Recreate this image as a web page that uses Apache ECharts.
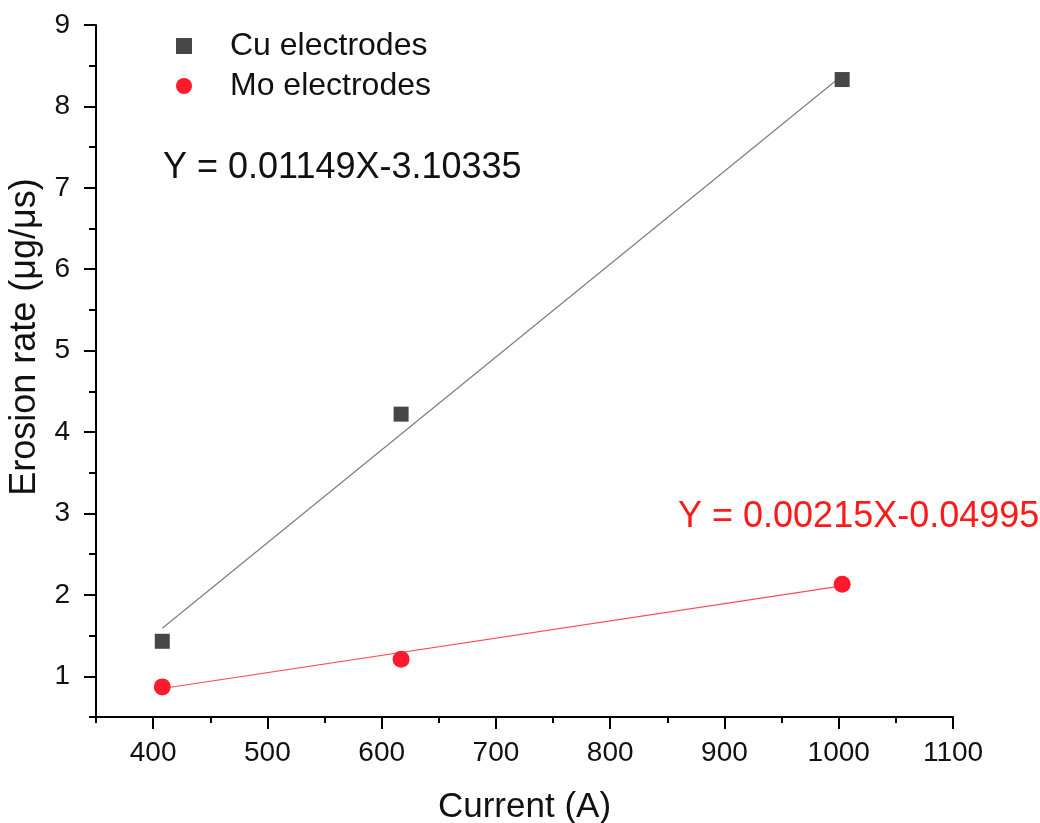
<!DOCTYPE html>
<html>
<head>
<meta charset="utf-8">
<script src="https://cdn.jsdelivr.net/npm/echarts@6/dist/echarts.min.js"></script>
<style>
html,body{margin:0;padding:0;background:#fff;}
#chart{width:1040px;height:823px;}
</style>
</head>
<body>
<div id="chart"></div>
<script>
// ---- data ----
const current = [408, 617, 1003];
const cuRate = [1.43, 4.22, 8.33];
const moRate = [0.87, 1.21, 2.13];
const cuFitX = [408, 1003];
const cuFitY = [1.59, 8.38];
const moFitX = [408, 1003];
const moFitY = [0.85, 2.11];
const xMajorTicks = [400, 500, 600, 700, 800, 900, 1000, 1100];
const xMinorTicks = [350, 450, 550, 650, 750, 850, 950, 1050];
const yMajorTicks = [1, 2, 3, 4, 5, 6, 7, 8, 9];
const yMinorTicks = [0.5, 1.5, 2.5, 3.5, 4.5, 5.5, 6.5, 7.5, 8.5];
const cuLabel = 'Cu electrodes';
const moLabel = 'Mo electrodes';
const cuEquation = 'Y = 0.01149X-3.10335';
const moEquation = 'Y = 0.00215X-0.04995';

const FONT = '"Liberation Sans", Arial, sans-serif';
const pairs = (xs, ys) => xs.map((x, i) => [x, ys[i]]);

const chart = echarts.init(document.getElementById('chart'), null, {renderer: 'canvas'});
const axisLineStyle = {color: '#000', width: 2};
const plain = v => String(v);
const option = {
  backgroundColor: '#fff',
  animation: false,
  textStyle: {fontFamily: FONT},
  grid: {left: 96, right: 87, top: 25, bottom: 106, containLabel: false, outerBoundsMode: 'none'},
  xAxis: [{
    type: 'value', min: 350, max: 1100,
    name: 'Current (A)', nameLocation: 'middle', nameGap: 73,
    nameTextStyle: {fontSize: 35, color: '#111', fontFamily: FONT},
    axisLine: {show: true, lineStyle: axisLineStyle},
    axisTick: {show: true, inside: false, length: 12, lineStyle: {color: '#000', width: 2}, customValues: xMajorTicks},
    axisLabel: {fontSize: 28, color: '#111', margin: 22, fontFamily: FONT, customValues: xMajorTicks, formatter: plain},
    splitLine: {show: false}
  }, {
    type: 'value', min: 350, max: 1100, position: 'bottom', gridIndex: 0,
    axisLine: {show: false},
    axisTick: {show: true, length: 6, lineStyle: {color: '#000', width: 2}, customValues: xMinorTicks},
    axisLabel: {show: false},
    splitLine: {show: false}
  }],
  yAxis: [{
    type: 'value', min: 0.5, max: 9,
    name: 'Erosion rate (μg/μs)', nameLocation: 'middle', nameGap: 51, nameRotate: 90,
    nameTextStyle: {fontSize: 36, color: '#111', fontFamily: FONT, padding: [0, 0, 0, 68]},
    axisLine: {show: true, lineStyle: axisLineStyle},
    axisTick: {show: true, length: 12, lineStyle: {color: '#000', width: 2}, customValues: yMajorTicks},
    axisLabel: {fontSize: 28, color: '#111', margin: 26, fontFamily: FONT, customValues: yMajorTicks, formatter: plain},
    splitLine: {show: false}
  }, {
    type: 'value', min: 0.5, max: 9, position: 'left', gridIndex: 0,
    axisLine: {show: false},
    axisTick: {show: true, length: 7, lineStyle: {color: '#000', width: 2}, customValues: yMinorTicks},
    axisLabel: {show: false},
    splitLine: {show: false}
  }],
  legend: {
    data: [cuLabel, moLabel],
    orient: 'vertical', left: 176, top: 30, padding: 0,
    itemWidth: 16, itemHeight: 16, itemGap: 8,
    textStyle: {fontSize: 32, color: '#111', fontFamily: FONT, lineHeight: 32, padding: [0, 0, 0, 33]}
  },
  series: [
    {
      name: 'cuFit', type: 'line', data: pairs(cuFitX, cuFitY), showSymbol: false, symbol: 'none',
      lineStyle: {color: '#7d7d7d', width: 1.2}, silent: true, z: 1
    },
    {
      name: 'moFit', type: 'line', data: pairs(moFitX, moFitY), showSymbol: false, symbol: 'none',
      lineStyle: {color: '#ff4b55', width: 1.2}, silent: true, z: 1
    },
    {
      name: cuLabel, type: 'scatter', data: pairs(current, cuRate),
      symbol: 'rect', symbolSize: 15, itemStyle: {color: '#474747', opacity: 1}, z: 3
    },
    {
      name: moLabel, type: 'scatter', data: pairs(current, moRate),
      symbol: 'circle', symbolSize: 17, itemStyle: {color: '#ff1a2e', opacity: 1}, z: 3
    }
  ],
  graphic: [
    {type: 'text', left: 163, top: 150, z: 10,
     style: {text: cuEquation, fontSize: 36, fill: '#111', fontFamily: FONT}},
    {type: 'text', left: 678, top: 499, z: 10,
     style: {text: moEquation, fontSize: 36, fill: '#ff1a1a', fontFamily: FONT}}
  ]
};
chart.setOption(option);
</script>
</body>
</html>
